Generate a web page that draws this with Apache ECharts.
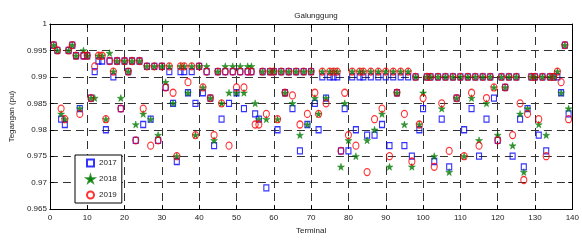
<!DOCTYPE html>
<html>
<head>
<meta charset="utf-8">
<script src="https://cdn.jsdelivr.net/npm/echarts@6/dist/echarts.min.js"></script>
<style>
  html, body { margin: 0; padding: 0; background: #fff; }
  #chart { width: 582px; height: 240px; }
</style>
</head>
<body>
<div id="chart"></div>
<script>
// voltage (pu) per terminal, terminals 1..139
const v2017 = [
  0.996, 0.995, 0.982, 0.981, 0.995, 0.996, 0.994, 0.984, 0.994, 0.994,
  0.986, 0.991, 0.993, 0.993, 0.980, 0.993, 0.990, 0.993, 0.984, 0.993,
  0.991, 0.993, 0.978, 0.993, 0.981, 0.992, 0.982, 0.992, 0.978, 0.992,
  0.988, 0.991, 0.985, 0.974, 0.991, 0.991, 0.987, 0.991, 0.985, 0.992,
  0.987, 0.991, 0.986, 0.977, 0.991, 0.982, 0.991, 0.985, 0.991, 0.987,
  0.991, 0.984, 0.991, 0.991, 0.983, 0.982, 0.991, 0.969, 0.991, 0.991,
  0.980, 0.991, 0.987, 0.991, 0.984, 0.991, 0.976, 0.991, 0.981, 0.991,
  0.985, 0.980, 0.990, 0.986, 0.990, 0.990, 0.990, 0.976, 0.984, 0.976,
  0.990, 0.980, 0.990, 0.990, 0.979, 0.990, 0.979, 0.990, 0.981, 0.990,
  0.977, 0.990, 0.987, 0.990, 0.977, 0.990, 0.975, 0.990, 0.980, 0.984,
  0.990, 0.990, 0.974, 0.990, 0.982, 0.990, 0.973, 0.990, 0.986, 0.990,
  0.980, 0.990, 0.984, 0.990, 0.975, 0.990, 0.982, 0.990, 0.986, 0.978,
  0.990, 0.988, 0.990, 0.975, 0.990, 0.982, 0.973, 0.984, 0.990, 0.990,
  0.979, 0.990, 0.976, 0.990, 0.990, 0.990, 0.987, 0.996, 0.983
];
const v2018 = [
  0.996, 0.995, 0.983, 0.982, 0.995, 0.996, 0.994, 0.984, 0.995, 0.994,
  0.986, 0.986, 0.994, 0.994, 0.982, 0.9945, 0.991, 0.993, 0.986, 0.993,
  0.991, 0.993, 0.981, 0.993, 0.983, 0.992, 0.982, 0.992, 0.979, 0.992,
  0.989, 0.992, 0.985, 0.975, 0.992, 0.992, 0.987, 0.992, 0.979, 0.992,
  0.988, 0.992, 0.986, 0.978, 0.991, 0.985, 0.992, 0.987, 0.992, 0.987,
  0.992, 0.987, 0.992, 0.992, 0.985, 0.982, 0.991, 0.982, 0.991, 0.991,
  0.982, 0.991, 0.987, 0.991, 0.985, 0.991, 0.979, 0.991, 0.981, 0.991,
  0.986, 0.983, 0.991, 0.986, 0.991, 0.991, 0.991, 0.973, 0.985, 0.978,
  0.991, 0.975, 0.991, 0.991, 0.978, 0.991, 0.980, 0.991, 0.983, 0.991,
  0.973, 0.991, 0.987, 0.991, 0.981, 0.991, 0.973, 0.990, 0.981, 0.987,
  0.990, 0.990, 0.975, 0.990, 0.984, 0.990, 0.972, 0.990, 0.986, 0.990,
  0.975, 0.990, 0.986, 0.990, 0.978, 0.990, 0.985, 0.990, 0.988, 0.979,
  0.990, 0.988, 0.990, 0.977, 0.990, 0.983, 0.972, 0.984, 0.990, 0.990,
  0.981, 0.990, 0.979, 0.990, 0.990, 0.991, 0.987, 0.996, 0.984
];
const v2019 = [
  0.996, 0.995, 0.984, 0.982, 0.995, 0.996, 0.994, 0.983, 0.994, 0.994,
  0.986, 0.992, 0.994, 0.994, 0.982, 0.993, 0.991, 0.993, 0.984, 0.993,
  0.991, 0.993, 0.978, 0.993, 0.984, 0.992, 0.977, 0.992, 0.978, 0.992,
  0.988, 0.992, 0.987, 0.975, 0.992, 0.992, 0.989, 0.992, 0.979, 0.992,
  0.988, 0.991, 0.986, 0.979, 0.991, 0.985, 0.991, 0.977, 0.991, 0.988,
  0.991, 0.988, 0.991, 0.991, 0.981, 0.981, 0.991, 0.983, 0.991, 0.991,
  0.982, 0.991, 0.987, 0.991, 0.9865, 0.991, 0.981, 0.991, 0.983, 0.991,
  0.987, 0.983, 0.991, 0.985, 0.991, 0.991, 0.991, 0.976, 0.987, 0.979,
  0.991, 0.977, 0.991, 0.991, 0.972, 0.991, 0.982, 0.991, 0.984, 0.991,
  0.975, 0.991, 0.987, 0.991, 0.983, 0.991, 0.974, 0.990, 0.981, 0.986,
  0.990, 0.990, 0.973, 0.990, 0.985, 0.990, 0.976, 0.990, 0.986, 0.990,
  0.975, 0.990, 0.987, 0.990, 0.977, 0.990, 0.986, 0.990, 0.988, 0.978,
  0.990, 0.988, 0.990, 0.979, 0.990, 0.985, 0.9705, 0.983, 0.990, 0.990,
  0.982, 0.990, 0.975, 0.990, 0.990, 0.991, 0.989, 0.996, 0.982
];
const years = ['2017', '2018', '2019'];

const font = 'Liberation Sans';
const star = 'path://M50,0 L61,35 L98,35 L68,57 L79,91 L50,70 L21,91 L32,57 L2,35 L39,35 Z';

function pairs(vals) {
  return vals.map((v, i) => [i + 1, v]);
}

const chart = echarts.init(document.getElementById('chart'));

const baseX = {
  type: 'value', min: 0, max: 140, interval: 10,
  axisLine: { onZero: false, lineStyle: { color: '#000', width: 1 } },
  axisTick: { inside: true, length: 4, lineStyle: { color: '#000' } }
};
const baseY = {
  type: 'value', min: 0.965, max: 1, interval: 0.005,
  axisLine: { onZero: false, lineStyle: { color: '#000', width: 1 } },
  axisTick: { inside: true, length: 4, lineStyle: { color: '#000' } }
};

chart.setOption({
  animation: false,
  textStyle: { fontFamily: font },
  title: {
    text: 'Galunggung',
    left: 311, top: 7, textAlign: 'center',
    textStyle: { fontSize: 8, fontWeight: 'normal', color: '#222', fontFamily: font }
  },
  grid: { left: 46, right: 5, top: 24, bottom: 29 },
  legend: {
    orient: 'vertical',
    left: 75, top: 155,
    data: years,
    itemWidth: 7, itemHeight: 7, itemGap: 6,
    padding: [3, 5, 3, 11],
    borderColor: '#000', borderWidth: 1,
    backgroundColor: '#fff',
    textStyle: { fontSize: 8, color: '#222', fontFamily: font, lineHeight: 10 }
  },
  xAxis: [
    Object.assign({}, baseX, {
      position: 'bottom',
      name: 'Terminal', nameLocation: 'middle', nameGap: 17,
      nameTextStyle: { fontSize: 8, color: '#222' },
      axisLabel: { fontSize: 8, color: '#222', margin: 5 },
      splitLine: { show: true, lineStyle: { color: '#333', type: [8, 5], width: 1 } }
    }),
    Object.assign({}, baseX, {
      position: 'top', axisLabel: { show: false }, splitLine: { show: false }
    })
  ],
  yAxis: [
    Object.assign({}, baseY, {
      position: 'left',
      name: 'Tegangan (pu)', nameLocation: 'middle', nameGap: 30, nameRotate: 90,
      nameTextStyle: { fontSize: 8, color: '#222' },
      axisLabel: { fontSize: 8, color: '#222', margin: 3, formatter: v => String(+v.toFixed(3)) },
      splitLine: { show: true, lineStyle: { color: '#333', type: [8, 5], width: 1 } }
    }),
    Object.assign({}, baseY, {
      position: 'right', axisLabel: { show: false }, splitLine: { show: false }
    })
  ],
  series: [
    {
      name: '2017', type: 'scatter', data: pairs(v2017),
      symbol: 'rect', symbolSize: [5, 6],
      itemStyle: { color: 'rgba(0,0,0,0)', borderColor: '#0000ff', borderWidth: 1.2 }
    },
    {
      name: '2018', type: 'scatter', data: pairs(v2018),
      symbol: star, symbolSize: 7,
      itemStyle: { color: '#007a00', borderColor: '#007a00', borderWidth: 0.5 }
    },
    {
      name: '2019', type: 'scatter', data: pairs(v2019),
      symbol: 'circle', symbolSize: [6, 7],
      itemStyle: { color: 'rgba(0,0,0,0)', borderColor: '#ff0000', borderWidth: 1.2 }
    }
  ]
});

window.addEventListener('resize', () => chart.resize());
</script>
</body>
</html>
